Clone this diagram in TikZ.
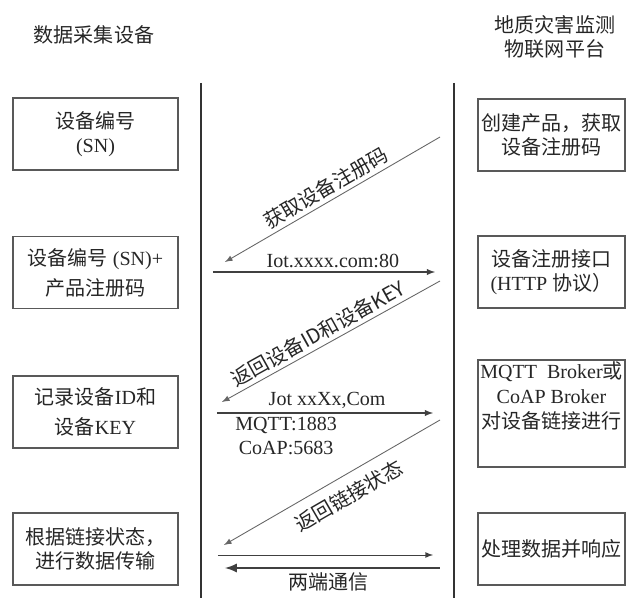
\documentclass[tikz,border=0pt]{standalone}
\usepackage{fontspec}
\setmainfont{Liberation Serif}
\newfontfamily\cjk{Noto Sans CJK SC}

\def\devx{95.5}
\def\platx{551.5}

\begin{document}
\begin{tikzpicture}[x=0.02cm,y=-0.02cm,>=latex,font=\fontsize{11.4}{14}\selectfont,text=black!85]
    \tikzstyle{lifeline}=[line width=1.1pt,draw=black!80]
    \tikzstyle{box}=[draw=black!65,line width=0.6pt,minimum width=3.3cm,minimum height=1.44cm,align=center,inner sep=0pt]
    \tikzstyle{platbox}=[box,minimum width=2.94cm]
    \tikzstyle{msg}=[->,draw=black!75,line width=0.6pt]
    \tikzstyle{diag}=[->,draw=black!60,line width=0.5pt]
    \tikzstyle{tag}=[inner sep=2pt]

    \useasboundingbox (0,0) rectangle (627,598);

    % Titles of the two sides
    \node (devtitle) at (94,35) {\cjk 数据采集设备};
    \node[align=center] (plattitle) at (555,37) {\cjk 地质灾害监测\\\cjk 物联网平台};

    % Draw the two lifelines
    \coordinate (L-top) at (201,83);
    \coordinate (L-bot) at (201,598);
    \coordinate (R-top) at (454,83);
    \coordinate (R-bot) at (454,598);
    \draw[lifeline] (L-top) -- (L-bot);
    \draw[lifeline] (R-top) -- (R-bot);

    % Draw the device side boxes
    \node[box] (D-1) at (\devx,134) {{\cjk 设备编号}\\(SN)};
    \node[box] (D-2) at (\devx,272.5) {{\cjk 设备编号} (SN)+\\[3pt]{\cjk 产品注册码}};
    \node[box] (D-3) at (\devx,412) {{\cjk 记录设备}ID{\cjk 和}\\[3pt]{\cjk 设备}KEY};
    \node[box] (D-4) at (\devx,549) {{\cjk 根据链接状态，}\\{\cjk 进行数据传输}};

    % Draw the platform side boxes
    \node[platbox] (P-1) at (\platx,135) {{\cjk 创建产品，获取}\\{\cjk 设备注册码}};
    \node[platbox] (P-2) at (\platx,272) {{\cjk 设备注册接口}\\(HTTP {\cjk 协议）}};
    \node[platbox,minimum height=2.14cm] (P-3) at (\platx,413.5) {};
    \node[align=center] (P-3-text) at (\platx,396) {MQTT\ \ Broker{\cjk 或}\\CoAP Broker\\{\cjk 对设备链接进行}};
    \node[platbox] (P-4) at (\platx,549) {\cjk 处理数据并响应};

    % Message end points
    \coordinate (r1) at (440,137);
    \coordinate (l1) at (225,262);
    \coordinate (l2) at (213,272);
    \coordinate (r2) at (435,272);
    \coordinate (r3) at (440,281);
    \coordinate (l3) at (222,402);
    \coordinate (l4) at (217,413);
    \coordinate (r4) at (433,413);
    \coordinate (r5) at (440,420);
    \coordinate (l5) at (224,545);
    \coordinate (l6) at (218,555);
    \coordinate (r6) at (433,555);
    \coordinate (r7) at (440,568);
    \coordinate (l7) at (225,568);

    % Draw the messages between the two sides
    \path (r1) edge[diag] node[tag,sloped,above] {\cjk 获取设备注册码} (l1);
    \path (l2) edge[msg] node[tag,above,pos=0.54] {Iot.xxxx.com:80} (r2);
    \path (r3) edge[diag] node[tag,sloped,above,pos=0.53] {\cjk 返回设备ID和设备KEY} (l3);
    \path (l4) edge[msg] node[tag,above,pos=0.51] {Jot xxXx,Com}
                         node[tag,below,pos=0.32,align=center] {MQTT:1883\\CoAP:5683} (r4);
    \path (r5) edge[diag] node[tag,sloped,below=4pt,pos=0.47] {\cjk 返回链接状态} (l5);
    \path (l6) edge[msg,line width=0.5pt] (r6);
    \path (r7) edge[msg,line width=1.3pt] node[tag,below,pos=0.52] {\cjk 两端通信} (l7);
\end{tikzpicture}
\end{document}
